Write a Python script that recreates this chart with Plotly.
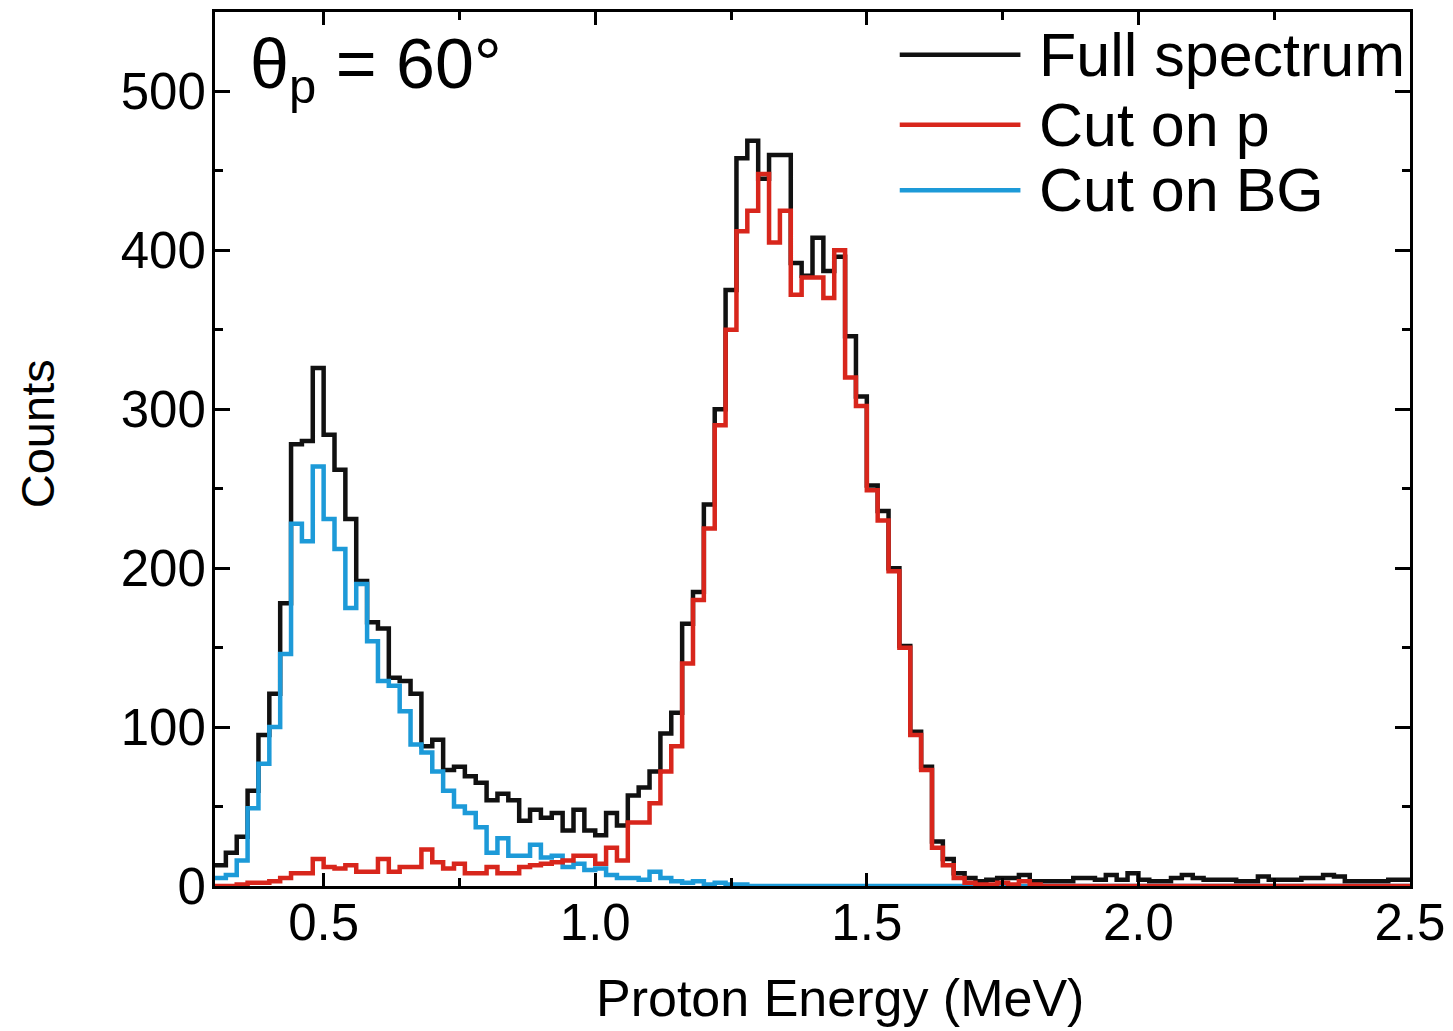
import numpy as np
import plotly.graph_objects as go

# ---- data: histogram counts per 0.02 MeV bin, first bin starts at 0.30 MeV ----
bin_start = 0.30
bin_width = 0.02

full_spectrum = [
    13, 21, 31, 60, 95, 121, 178, 278, 280,
    326, 284, 262, 231, 192, 166, 162, 131, 129, 121,
    88, 92, 73, 75, 69, 65, 54, 58, 54, 41,
    48, 43, 46, 35, 48, 35, 32, 46, 38, 57,
    62, 72, 96, 109, 165, 185, 240, 300, 375, 458,
    469, 445, 460, 460, 392, 384, 408, 387, 396, 346,
    308, 252, 236, 200, 151, 97, 75, 28, 17, 8,
    5, 3, 4, 5, 5, 7, 3, 3, 3, 3,
    5, 5, 4, 7, 4, 8, 4, 3, 3, 5,
    7, 5, 4, 4, 4, 3, 3, 6, 4, 4,
    4, 5, 5, 7, 6, 3, 3, 3, 3, 4, 4,
]

cut_on_p = [
    0, 0, 1, 2, 2, 3, 5, 8, 8,
    17, 12, 11, 13, 9, 9, 17, 9, 12, 12,
    23, 15, 11, 14, 8, 8, 12, 8, 8, 12,
    13, 14, 15, 16, 19, 19, 14, 24, 16, 40,
    40, 52, 72, 88, 140, 180, 225, 290, 350, 412,
    425, 448, 405, 425, 372, 383, 383, 370, 400, 320,
    302, 249, 230, 198, 150, 95, 73, 24, 13, 5,
    2, 1, 1, 2, 1, 3, 1, 0, 0, 0,
    0, 0, 0, 0, 0, 0, 0, 0, 0, 0,
    0, 0, 0, 0, 0, 0, 0, 0, 0, 0,
    0, 0, 0, 0, 0, 0, 0, 0, 0, 0, 0,
]

cut_on_bg = [
    5, 7, 16, 49, 77, 100, 146, 228, 217,
    264, 231, 212, 175, 190, 154, 129, 126, 110, 89,
    84, 72, 60, 50, 46, 37, 21, 30, 19, 19,
    26, 18, 19, 12, 14, 10, 11, 7, 5, 5,
    4, 9, 5, 3, 2, 3, 1, 2, 1, 1,
    0, 0, 0, 0, 0, 0, 0, 0, 0, 0,
    0, 0, 0, 0, 0, 0, 0, 0, 0, 0,
    0, 0, 0, 0, 0, 0, 0, 0, 0, 0,
    0, 0, 0, 0, 0, 0, 0, 0, 0, 0,
    0, 0, 0, 0, 0, 0, 0, 0, 0, 0,
    0, 0, 0, 0, 0, 0, 0, 0, 0, 0, 0,
]

series_names = ["Full spectrum", "Cut on p", "Cut on BG"]
x_tick_vals = [0.5, 1.0, 1.5, 2.0, 2.5]
x_tick_text = ["0.5", "1.0", "1.5", "2.0", "2.5"]
y_tick_vals = [0, 100, 200, 300, 400, 500]
y_tick_text = ["0", "100", "200", "300", "400", "500"]

# ---- styling ----
FONT = "Liberation Sans, Arial, sans-serif"
BLACK = "#111111"
RED = "#d8261c"
BLUE = "#1d9ad8"
LW = 4.5


def step_xy(values):
    n = len(values)
    edges = np.round(bin_start + bin_width * np.arange(n + 1), 4)
    return edges, list(values) + [values[-1]]


fig = go.Figure()
for vals, color, name in [
    (full_spectrum, BLACK, series_names[0]),
    (cut_on_bg, BLUE, series_names[2]),
    (cut_on_p, RED, series_names[1]),
]:
    xs, ys = step_xy(vals)
    fig.add_trace(go.Scatter(x=xs, y=ys, mode="lines", name=name,
                             line=dict(color=color, width=LW, shape="hv"),
                             showlegend=False))

axis_common = dict(
    showline=True, linewidth=3, linecolor="black", mirror="allticks",
    ticks="inside", tickwidth=3, tickcolor="black",
    showgrid=False, zeroline=False, automargin=False,
    tickfont=dict(family=FONT, size=51, color="black"),
)

fig.update_xaxes(range=[0.3, 2.5], tickvals=x_tick_vals, ticktext=x_tick_text,
                 ticklen=13, ticklabelstandoff=-10,
                 minor=dict(tickvals=[0.75, 1.25, 1.75, 2.25], ticklen=8,
                            tickwidth=3, ticks="inside", tickcolor="black",
                            showgrid=False),
                 **axis_common)
fig.update_yaxes(range=[0, 550], tickvals=y_tick_vals, ticktext=y_tick_text,
                 ticklen=15, ticklabelstandoff=-4,
                 minor=dict(dtick=50, tick0=0, ticklen=8, tickwidth=3,
                            ticks="inside", tickcolor="black", showgrid=False),
                 **axis_common)

annotations = [
    dict(text="Proton Energy (MeV)", x=0.523, y=-0.128, xref="paper", yref="paper",
         xanchor="center", yanchor="middle", showarrow=False,
         font=dict(family=FONT, size=52, color="black")),
    dict(text="Counts", x=-0.149, y=0.518, xref="paper", yref="paper",
         xanchor="center", yanchor="middle", textangle=-90, showarrow=False,
         font=dict(family=FONT, size=47, color="black")),
    dict(text="θ<sub>p</sub> = 60°", x=0.028, y=0.935, xref="paper", yref="paper",
         xanchor="left", yanchor="middle", showarrow=False,
         font=dict(family=FONT, size=70, color="black")),
]

shapes = []
legend_rows = [(series_names[0], BLACK, 0.951), (series_names[1], RED, 0.871),
               (series_names[2], BLUE, 0.796)]
for name, color, yy in legend_rows:
    shapes.append(dict(type="line", xref="paper", yref="paper",
                       x0=0.573, x1=0.674, y0=yy, y1=yy,
                       line=dict(color=color, width=LW)))
    annotations.append(dict(text=name, x=0.688, y=yy, xref="paper", yref="paper",
                            xanchor="left", yanchor="middle", showarrow=False,
                            font=dict(family=FONT, size=61, color="black")))

# the page body adds an 8 px margin, so the figure is sized/offset to compensate
fig.update_layout(
    width=1445, height=1023,
    margin=dict(l=207, r=43, t=4, b=145, autoexpand=False),
    plot_bgcolor="white", paper_bgcolor="white",
    showlegend=False,
    annotations=annotations, shapes=shapes,
)

fig.write_html("out.html")
